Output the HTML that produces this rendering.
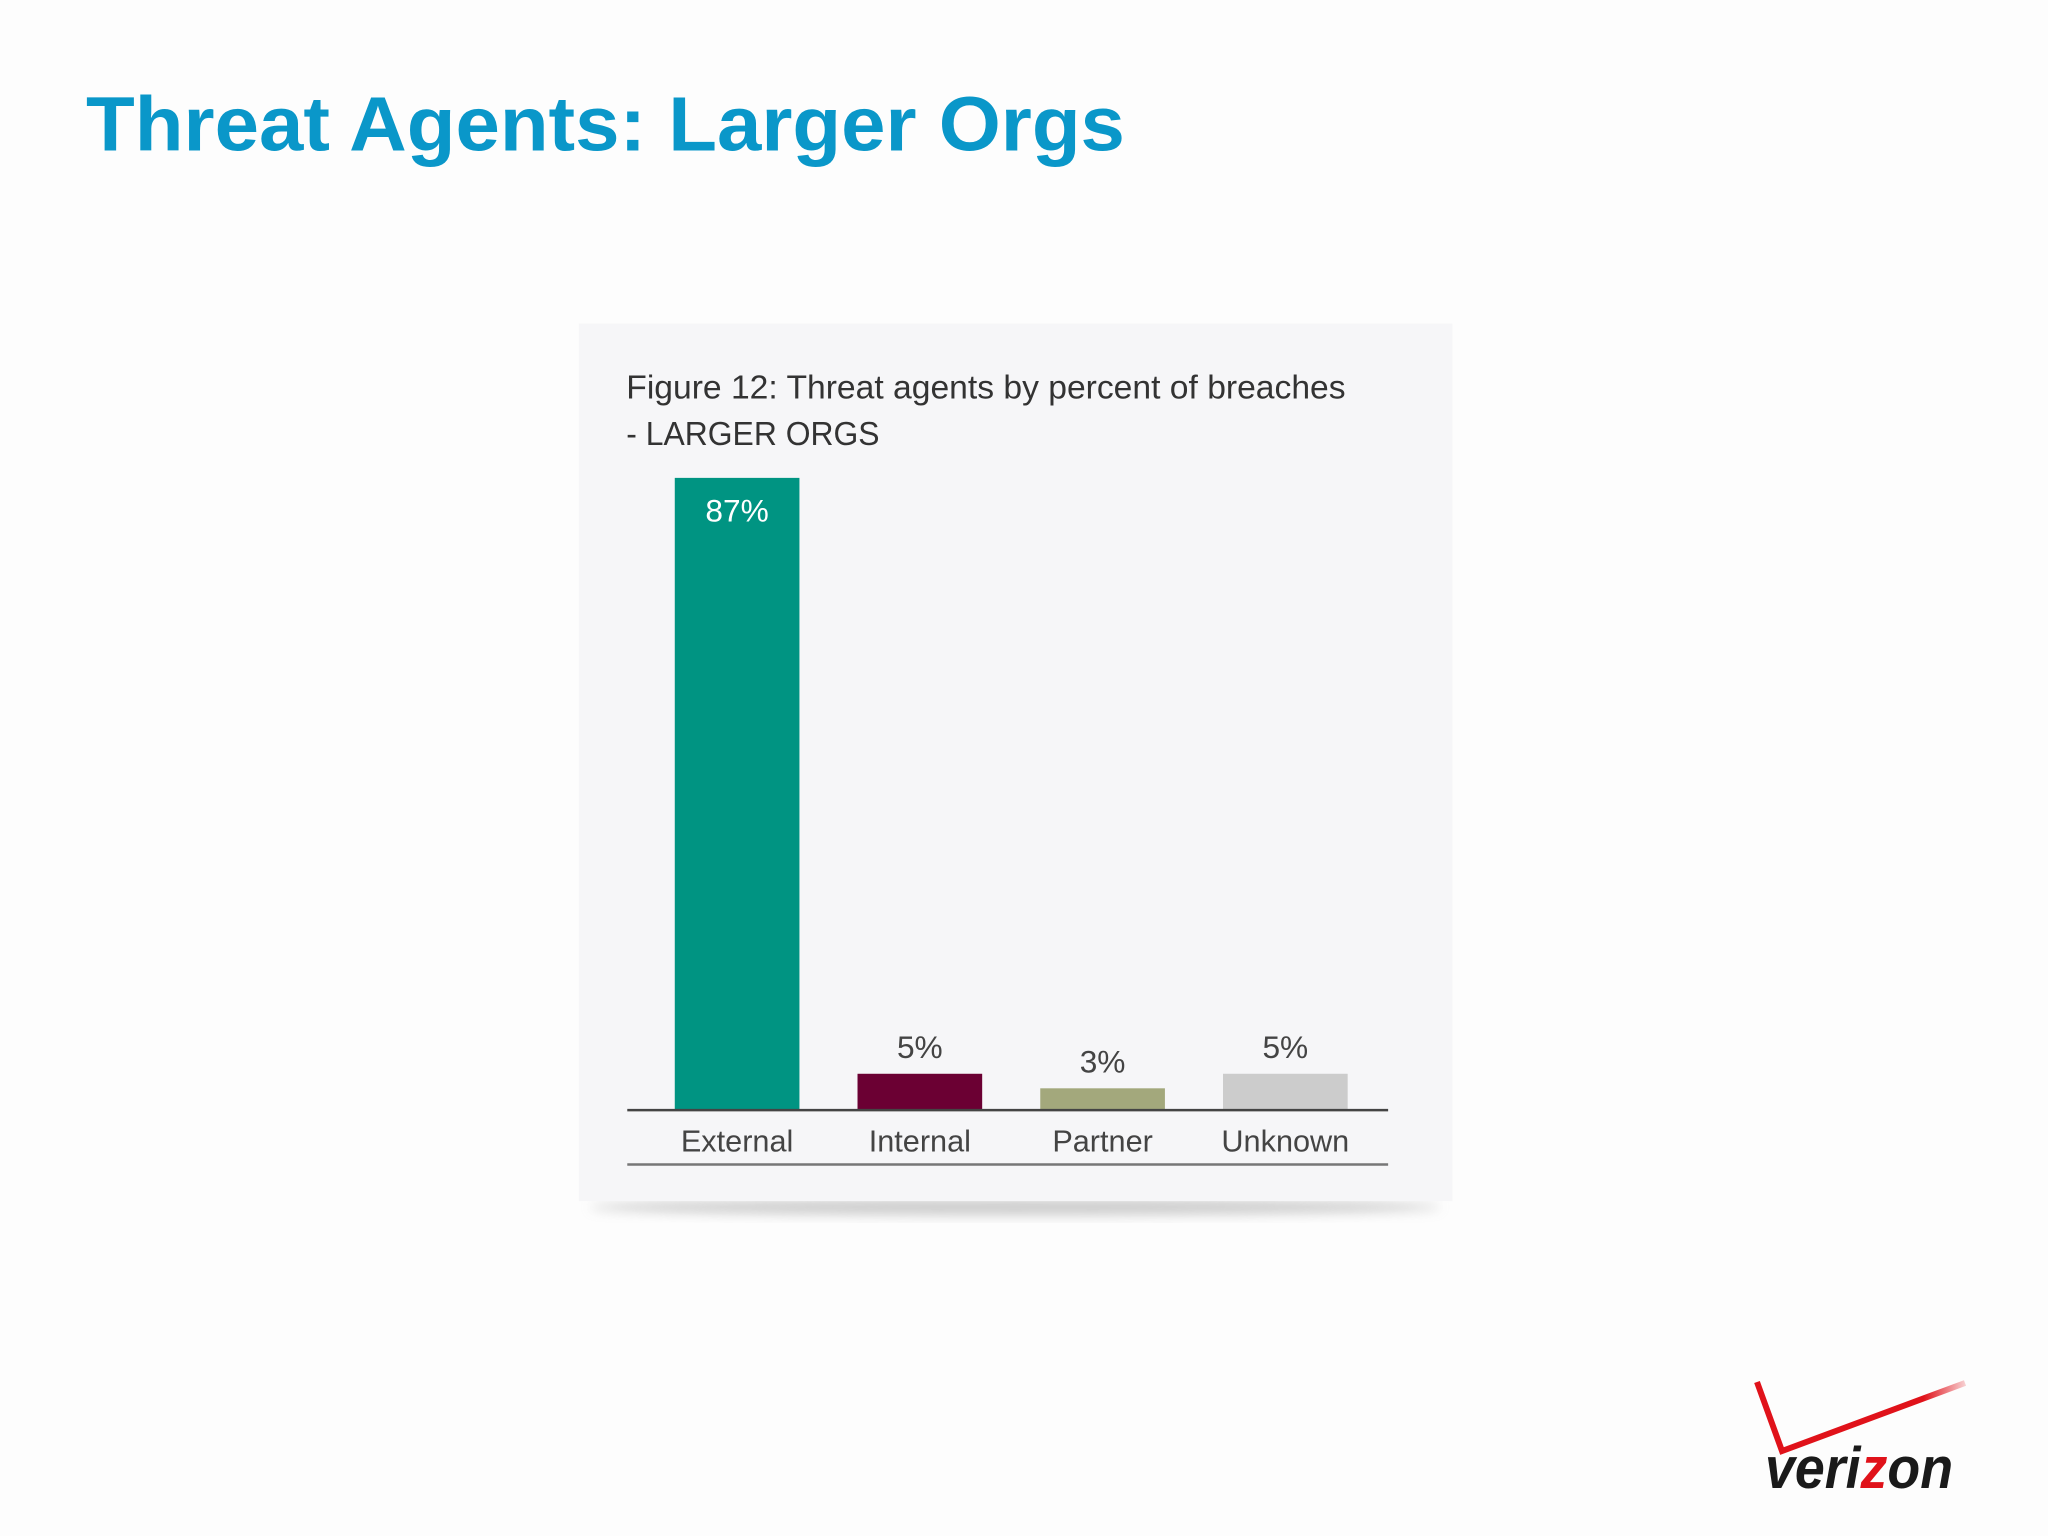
<!DOCTYPE html>
<html><head><meta charset="utf-8"><style>
html,body{margin:0;padding:0;background:#fdfdfd;}
svg{display:block;}
</style></head><body>
<svg width="2048" height="1536" viewBox="0 0 2048 1536" xmlns="http://www.w3.org/2000/svg">
<defs>
<linearGradient id="fadeR" x1="0" x2="1"><stop offset="0" stop-color="#e0121a"/><stop offset="0.8" stop-color="#e0121a"/><stop offset="1" stop-color="#e0121a" stop-opacity="0.2"/></linearGradient>
<filter id="sh" x="-5%" y="-50%" width="110%" height="200%"><feGaussianBlur stdDeviation="6"/></filter>
</defs>
<rect width="2048" height="1536" fill="#fdfdfd"/>
<g transform="scale(0.9894)">
<text x="87" y="152" font-family="Liberation Sans, sans-serif" font-weight="bold" font-size="78" fill="#0a97c9" textLength="1050" lengthAdjust="spacingAndGlyphs">Threat Agents: Larger Orgs</text>

<g>
<ellipse cx="1026" cy="1220" rx="430" ry="8" fill="#999" opacity="0.5" filter="url(#sh)"/>
<rect x="585" y="327" width="883" height="887" fill="#f6f6f8"/>
<text x="633" y="403" font-family="Liberation Sans, sans-serif" font-size="34" fill="#333" textLength="727" lengthAdjust="spacingAndGlyphs">Figure 12: Threat agents  by percent of breaches</text>
<text x="633" y="450" font-family="Liberation Sans, sans-serif" font-size="34" fill="#333" textLength="256" lengthAdjust="spacingAndGlyphs">- LARGER ORGS</text>
<g id="chart"></g>
<line x1="634" y1="1122" x2="1403" y2="1122" stroke="#444" stroke-width="2.5"/>
<line x1="634" y1="1177" x2="1403" y2="1177" stroke="#777" stroke-width="2.5"/>
</g>
</g>

<g>
<polyline points="1757,1382 1782,1451 1965,1383" fill="none" stroke="url(#fadeR)" stroke-width="6"/>
<text x="1765" y="1488" font-family="Liberation Sans, sans-serif" font-weight="bold" font-style="italic" font-size="58" fill="#1a1a1a" textLength="188" lengthAdjust="spacingAndGlyphs">veri<tspan fill="#e0121a">z</tspan>on</text>
</g>
</svg>
<script>
const categories = ["External","Internal","Partner","Unknown"];
const values = [87,5,3,5];
const valueLabels = ["87%","5%","3%","5%"];
const colors = ["#009482","#6b0033","#a3a87c","#cccccc"];
const NS="http://www.w3.org/2000/svg";
const g=document.getElementById('chart');
const baseY=1122, pxPer=639/87, x0=682, step=184.7, bw=126;
const xPos=i=>x0+i*step;
const yPos=v=>baseY-v*pxPer;
categories.forEach((c,i)=>{
  const r=document.createElementNS(NS,'rect');
  r.setAttribute('x',xPos(i));r.setAttribute('y',yPos(values[i]));
  r.setAttribute('width',bw);r.setAttribute('height',baseY-yPos(values[i]));
  r.setAttribute('fill',colors[i]);
  
  
  g.appendChild(r);
  const inside=values[i]>20;
  const t=document.createElementNS(NS,'text');
  t.setAttribute('x',xPos(i)+bw/2);
  t.setAttribute('y',inside?yPos(values[i])+44:yPos(values[i])-16);
  t.setAttribute('text-anchor','middle');
  t.setAttribute('font-family','Liberation Sans, sans-serif');
  t.setAttribute('font-size','32');
  t.setAttribute('fill',inside?'#ffffff':'#444');
  t.textContent=valueLabels[i];
  
  
  g.appendChild(t);
  const l=document.createElementNS(NS,'text');
  l.setAttribute('x',xPos(i)+bw/2);l.setAttribute('y',1164);
  l.setAttribute('text-anchor','middle');
  l.setAttribute('font-family','Liberation Sans, sans-serif');
  l.setAttribute('font-size','31');l.setAttribute('fill','#444');
  l.textContent=c;
  
  
  g.appendChild(l);
});
</script>
</body></html>
